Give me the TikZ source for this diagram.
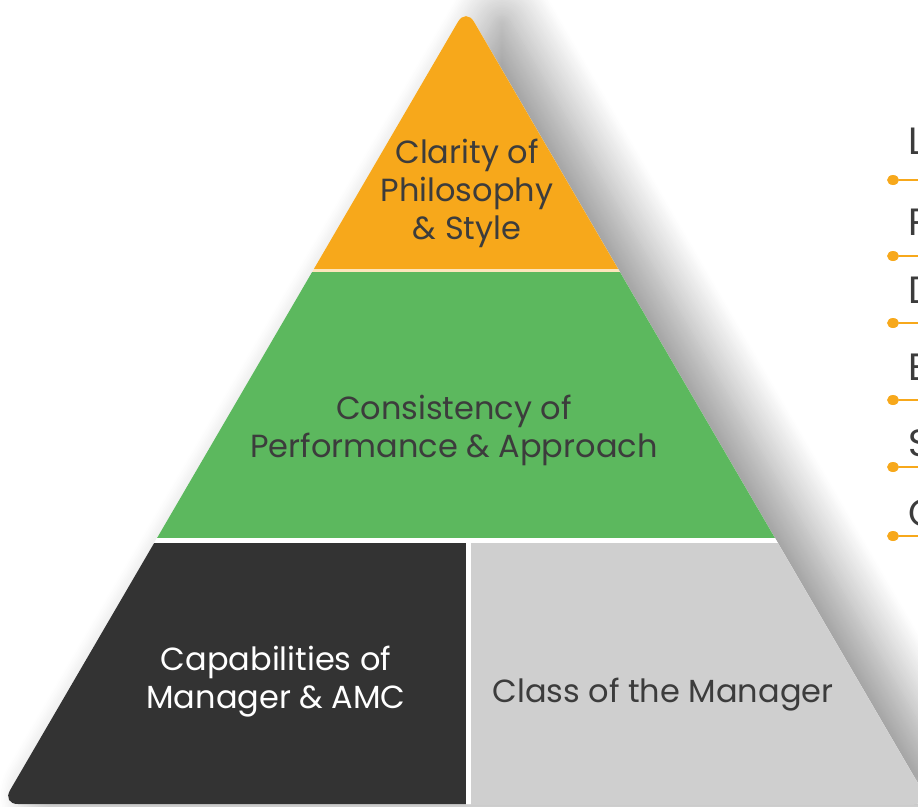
\documentclass[tikz,border=0pt]{standalone}
\usepackage{fontspec}
\setmainfont{Poppins}
\usetikzlibrary{shadows.blur,shapes.geometric}
\definecolor{porange}{HTML}{F7A81B}
\definecolor{pgreen}{HTML}{5CB85E}
\definecolor{pdark}{HTML}{333333}
\definecolor{plight}{HTML}{CFCFCF}
\definecolor{ptext}{HTML}{3C3C3C}
\begin{document}
\begin{tikzpicture}[x=1pt,y=-1pt,
  ptxt/.style={align=center,text=ptext,font=\fontsize{32}{38}\selectfont,inner sep=0pt},
  wtxt/.style={ptxt,text=white},
  sidetxt/.style={anchor=west,text=ptext,font=\fontsize{38}{44}\selectfont,inner sep=0pt},
  dotmark/.style={ellipse,fill=porange,minimum width=12pt,minimum height=10pt,inner sep=0pt},
  dotline/.style={draw=porange,line width=2pt}]
\useasboundingbox (0,0) rectangle (918,806);
\clip (0,0) rectangle (918,806);
% shadow
\fill[white,rounded corners=16pt,blur shadow={shadow xshift=36pt,shadow yshift=0pt,shadow blur radius=45pt,shadow blur steps=30,shadow opacity=42}]
  (466,8) -- (930,804) -- (2,804) -- cycle;
\begin{scope}
\clip[rounded corners=16pt] (466,8) -- (930,804) -- (2,804) -- cycle;
\fill[porange] (0,0) rectangle (940,269);
\fill[white!70!porange] (0,269) rectangle (940,272);
\fill[pgreen] (0,272) rectangle (940,538);
\fill[white] (0,538) rectangle (940,543);
\fill[pdark] (0,543) rectangle (466,810);
\fill[white] (466,543) rectangle (471,810);
\fill[plight] (471,543) rectangle (940,810);
\end{scope}
% texts
\node[ptxt] (t1) at (467,193) {Clarity of\\Philosophy\\\& Style};
\node[ptxt] (t2) at (454,430) {Consistency of\\Performance \& Approach};
\node[wtxt] (t3) at (276,682) {Capabilities of\\Manager \& AMC};
\node[ptxt] (t4) at (663,695) {Class of the Manager};
% side list
\foreach \n/\l/\ty/\dy in {1/L/141/180,2/P/222/256,3/D/290/323,4/E/367/400,5/S/443/467,6/C/513/536}{
  \node[sidetxt] (s\n) at (908,\ty) {\l};
  \node[dotmark] (d\n) at (893,\dy) {};
  \coordinate (e\n) at (930,\dy);
  \draw[dotline] (d\n) -- (e\n);
}
\end{tikzpicture}
\end{document}
